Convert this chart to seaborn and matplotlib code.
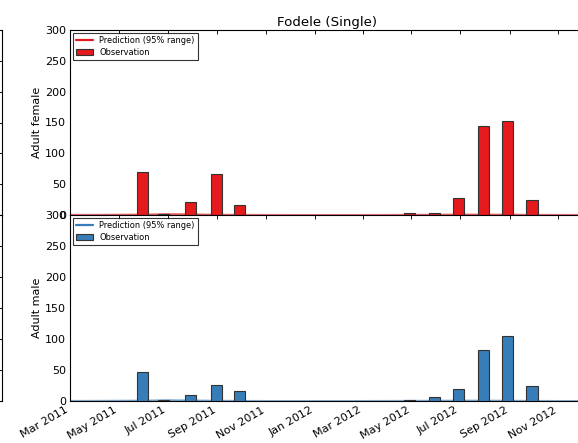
import matplotlib
matplotlib.use("Agg")
import matplotlib.pyplot as plt
import matplotlib.dates as mdates
import seaborn as sns
import pandas as pd
import numpy as np

# ---- data ----
obs_dates = ["2011-05-31", "2011-06-26", "2011-07-30", "2011-08-31", "2011-09-29",
             "2012-04-29", "2012-05-30", "2012-06-29", "2012-07-30", "2012-08-29", "2012-09-29"]
female_obs = [70, 2, 21, 66, 16, 3, 3, 27, 145, 152, 25]
male_obs = [47, 1, 10, 26, 16, 1, 6, 19, 83, 105, 25]

pred_dates = ["2011-03-01", "2011-04-01", "2011-05-01", "2011-06-01", "2011-07-01", "2011-08-01",
              "2011-09-01", "2011-10-01", "2011-11-01", "2011-12-01", "2012-01-01", "2012-02-01",
              "2012-03-01", "2012-04-01", "2012-05-01", "2012-06-01", "2012-07-01", "2012-08-01",
              "2012-09-01", "2012-10-01", "2012-11-01", "2012-12-01"]
female_pred_mid = [0.5, 0.6, 0.8, 1.0, 1.6, 1.2, 0.8, 0.5, 0.4, 0.3, 0.3, 0.3,
                   0.3, 0.4, 0.6, 0.8, 1.0, 1.0, 0.8, 0.5, 0.4, 0.3]
female_pred_lo = [0, 0, 0, 0, 0.3, 0.2, 0, 0, 0, 0, 0, 0, 0, 0, 0, 0, 0, 0, 0, 0, 0, 0]
female_pred_hi = [1.0, 1.2, 1.8, 2.5, 3.5, 3.0, 1.8, 1.0, 0.8, 0.6, 0.6, 0.6,
                  0.6, 0.8, 1.2, 1.6, 2.0, 2.0, 1.6, 1.0, 0.8, 0.6]
male_pred_mid = [0.4, 0.5, 0.7, 0.9, 1.4, 1.1, 0.7, 0.4, 0.3, 0.3, 0.3, 0.3,
                 0.3, 0.4, 0.5, 0.7, 0.9, 0.9, 0.7, 0.4, 0.3, 0.3]
male_pred_lo = [0, 0, 0, 0, 0.2, 0.2, 0, 0, 0, 0, 0, 0, 0, 0, 0, 0, 0, 0, 0, 0, 0, 0]
male_pred_hi = [0.9, 1.0, 1.6, 2.2, 3.0, 2.6, 1.6, 0.9, 0.7, 0.6, 0.6, 0.6,
                0.6, 0.7, 1.0, 1.4, 1.8, 1.8, 1.4, 0.9, 0.7, 0.6]

ylabels = ["Adult female", "Adult male"]
title = "Fodele (Single)"
colors = ["#e41a1c", "#377eb8"]

# ---- style ----
sns.set_style("white")
plt.rcParams.update({
    "font.family": ["DejaVu Sans"],
    "xtick.direction": "in", "ytick.direction": "in",
    "xtick.top": True, "ytick.right": True,
    "xtick.major.size": 4, "ytick.major.size": 4,
    "xtick.major.width": 0.8, "ytick.major.width": 0.8,
    "axes.edgecolor": "black", "axes.linewidth": 1.0,
    "xtick.color": "black", "ytick.color": "black",
    "text.color": "black", "axes.labelcolor": "black",
})

W, H, DPI = 578, 443, 80
fig = plt.figure(figsize=(W / DPI, H / DPI), dpi=DPI)

left = 70 / W
right = 584 / W
ax_top = fig.add_axes([left, (H - 215) / H, right - left, (215 - 30) / H])
ax_bot = fig.add_axes([left, (H - 401) / H, right - left, (401 - 215) / H], sharex=ax_top)

# partial neighbour panels at far left
for (b, t) in [(215, 30), (401, 215)]:
    axn = fig.add_axes([-0.3, (H - b) / H, 0.3 + 1.5 / W, (b - t) / H])
    axn.set_ylim(0, 300)
    axn.set_yticks(np.arange(0, 301, 50))
    axn.set_xticks([])
    axn.tick_params(axis="y", left=False, right=True, labelleft=False, labelright=False,
                    direction="in", length=4)

obs_dt = pd.to_datetime(obs_dates)
pred_dt = pd.to_datetime(pred_dates)
series = [(female_obs, female_pred_mid, female_pred_lo, female_pred_hi),
          (male_obs, male_pred_mid, male_pred_lo, male_pred_hi)]

for ax, (obs, mid, lo, hi), col, yl in zip([ax_top, ax_bot], series, colors, ylabels):
    pdf = pd.DataFrame({"date": pred_dt, "mid": mid, "lo": lo, "hi": hi})
    ax.fill_between(pdf["date"], pdf["lo"], pdf["hi"], color=col, alpha=0.3, lw=0)
    sns.lineplot(data=pdf, x="date", y="mid", ax=ax, color=col, lw=1.5, alpha=0.6,
                 label="Prediction (95% range)")
    ax.bar(obs_dt, obs, width=14, color=col, edgecolor="#333333", linewidth=1.0,
           label="Observation", zorder=3)
    ax.set_ylim(0, 300)
    ax.set_yticks(np.arange(0, 301, 50))
    ax.set_ylabel(yl, fontsize=10, labelpad=3)
    ax.set_xlabel("")
    ax.tick_params(axis="both", labelsize=10, direction="in", top=True, right=True, length=4)
    handles, labels = ax.get_legend_handles_labels()
    leg = ax.legend(handles, labels, loc="upper left", fontsize=7.4, frameon=True,
                    fancybox=False, borderaxespad=0.35, handlelength=2.0,
                    handletextpad=0.8, borderpad=0.4, labelspacing=0.3)
    leg.get_frame().set_edgecolor("black")
    leg.get_frame().set_linewidth(1.0)
    for line in leg.get_lines():
        line.set_linewidth(2)
        line.set_alpha(1)

ax_top.set_xlim(pd.Timestamp("2011-03-01"), pd.Timestamp("2012-12-03"))
ax_bot.xaxis.set_major_locator(mdates.MonthLocator(bymonth=[1, 3, 5, 7, 9, 11]))
ax_bot.xaxis.set_major_formatter(mdates.DateFormatter("%b %Y"))
plt.setp(ax_top.get_xticklabels(), visible=False)
for lab in ax_bot.get_xticklabels():
    lab.set_rotation(30)
    lab.set_ha("right")

ax_top.set_title(title, fontsize=12, pad=4)

fig.savefig("out.png", dpi=DPI, facecolor="white")
